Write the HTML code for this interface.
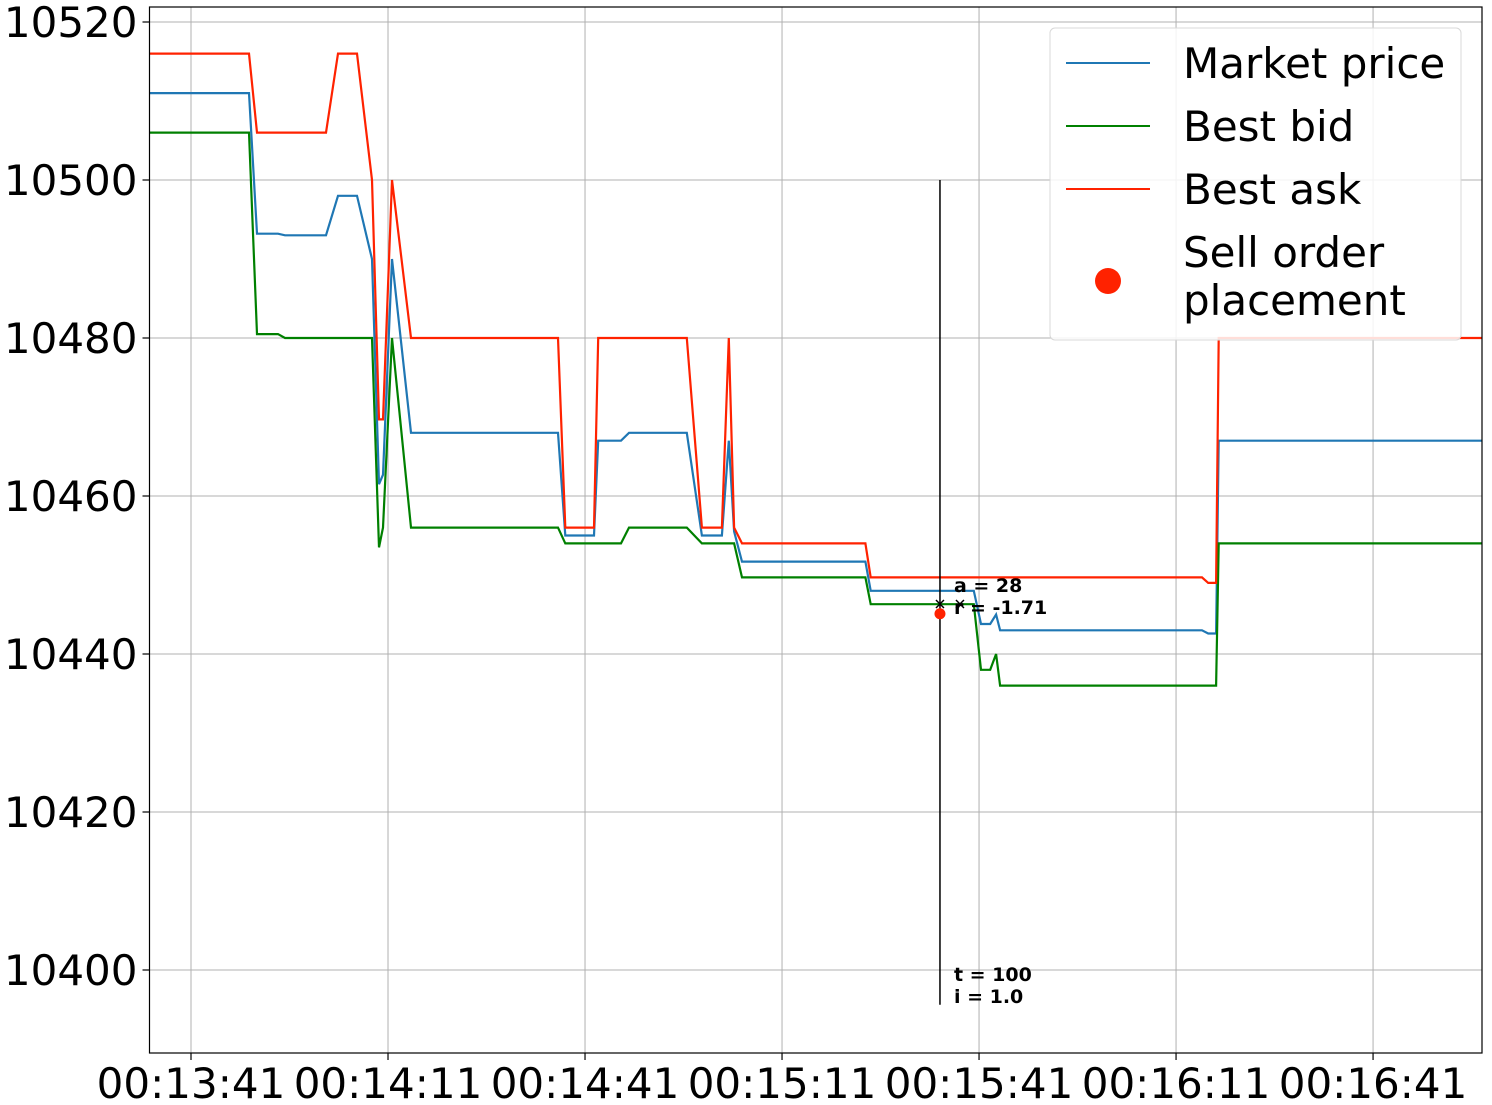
<!DOCTYPE html>
<html><head><meta charset="utf-8">
<style>
html,body{margin:0;padding:0;background:#fff;}
svg{display:block;font-family:"DejaVu Sans","Liberation Sans",sans-serif;}
</style></head>
<body>
<svg id="chart" width="1492" height="1105" viewBox="0 0 1492 1105"></svg>
<script>
// time in seconds relative to 00:13:41
const askTimes = [-6.4,8.83,10.05,20.56,22.38,25.28,27.56,28.63,29.24,30.61,33.5,55.89,57.0,61.37,62.0,75.5,77.8,80.85,81.9,82.7,83.9,102.7,103.5,153.95,154.9,156.1,156.5,196.6];
const askValues = [10516,10516,10506,10506,10516,10516,10500,10469.7,10469.7,10500,10480,10480,10456,10456,10480,10480,10456,10456,10480,10456,10454,10454,10449.7,10449.7,10449,10449,10480,10480];
const mktTimes = [-6.4,8.83,10.05,13.25,14.31,20.56,22.38,25.28,27.56,28.63,29.24,30.61,33.5,55.89,57.0,61.37,62.0,65.48,66.7,75.5,77.8,80.85,81.9,82.7,83.9,102.7,103.5,119.2,120.3,121.7,122.6,123.2,153.95,154.9,156.1,156.5,196.6];
const mktValues = [10511,10511,10493.2,10493.2,10493,10493,10498,10498,10490,10461.5,10462.7,10490,10468,10468,10455,10455,10467,10467,10468,10468,10455,10455,10467,10455.5,10451.7,10451.7,10448,10448,10443.8,10443.8,10445,10443,10443,10442.6,10442.6,10467,10467];
const bidTimes = [-6.4,8.83,10.05,13.25,14.31,27.56,28.63,29.24,30.61,33.5,55.89,57.0,65.48,66.7,75.5,77.8,82.7,83.9,102.7,103.5,119.2,120.3,121.7,122.6,123.2,156.1,156.5,196.6];
const bidValues = [10506,10506,10480.5,10480.5,10480,10480,10453.5,10456,10480,10456,10456,10454,10454,10456,10456,10454,10454,10449.7,10449.7,10446.3,10446.3,10438,10438,10440,10436,10436,10454,10454];
const sellTime = [114.05];
const sellPrice = [10445.1];
const yTicks = [10400,10420,10440,10460,10480,10500,10520];
const xTicks = [0,30,60,90,120,150,180];
const xTickLabels = ["00:13:41","00:14:11","00:14:41","00:15:11","00:15:41","00:16:11","00:16:41"];

const NS="http://www.w3.org/2000/svg";
const svg=document.getElementById('chart');
const L=149.5,R=1482,T=7,B=1053;
const xs=t=>191+t*6.567;
const ys=v=>22+(10520-v)*7.9;
function mk(tag,attrs,parent){const e=document.createElementNS(NS,tag);for(const k in attrs)e.setAttribute(k,attrs[k]);(parent||svg).appendChild(e);return e;}

const clip=mk('clipPath',{id:'pc'});mk('rect',{x:L,y:T,width:R-L,height:B-T},clip);

yTicks.forEach((v,i)=>{
  const g=mk('line',{x1:L,x2:R,y1:ys(v),y2:ys(v),stroke:'#b0b0b0','stroke-width':1});
  
  
  mk('line',{x1:L-7,x2:L,y1:ys(v),y2:ys(v),stroke:'#000','stroke-width':1.2});
  const t=mk('text',{x:L-12,y:ys(v)+15,'text-anchor':'end','font-size':42,fill:'#000'});
  t.textContent=v;
  
  
});
xTicks.forEach((s,i)=>{
  const g=mk('line',{x1:xs(s),x2:xs(s),y1:T,y2:B,stroke:'#b0b0b0','stroke-width':1});
  
  
  mk('line',{x1:xs(s),x2:xs(s),y1:B,y2:B+7,stroke:'#000','stroke-width':1.2});
  const t=mk('text',{x:xs(s),y:B+45,'text-anchor':'middle','font-size':42,fill:'#000'});
  t.textContent=xTickLabels[i];
  
  
});

function line(times,vals,color,name){
  const pts=times.map((t,i)=>xs(t).toFixed(1)+','+ys(vals[i]).toFixed(1)).join(' ');
  const p=mk('polyline',{points:pts,fill:'none',stroke:color,'stroke-width':2.2,'clip-path':'url(#pc)'});
  
  
}
line(mktTimes,mktValues,'#1f77b4','market-price-line');
line(bidTimes,bidValues,'#008000','best-bid-line');
line(askTimes,askValues,'#ff2200','best-ask-line');

const vx=xs(sellTime[0]);
const vl=mk('line',{x1:vx,x2:vx,y1:ys(10500),y2:ys(10395.6),stroke:'#000','stroke-width':1.5});


const dot=mk('circle',{cx:vx,cy:ys(sellPrice[0]),r:5.5,fill:'#ff2200'});


[[vx,604],[vx+20,604]].forEach(([x,y])=>{
  mk('path',{d:`M${x-4},${y-4}L${x+4},${y+4}M${x-4},${y+4}L${x+4},${y-4}`,stroke:'#000','stroke-width':1.5});
});
[['a = 28',592,'annotation-a'],['r = -1.71',614,'annotation-r'],['t = 100',981,'annotation-t'],['i = 1.0',1003,'annotation-i']].forEach(([s,y,n])=>{
  const t=mk('text',{x:vx+14,y:y,'font-size':19,'font-weight':'bold',fill:'#000'});
  t.textContent=s;
  
  
});

mk('rect',{x:L,y:T,width:R-L,height:B-T,fill:'none',stroke:'#000','stroke-width':1.2});

const lg=mk('g',{});


mk('rect',{x:1050,y:28,width:411,height:312,rx:5,fill:'#fff','fill-opacity':0.85,stroke:'#d8d8d8','stroke-width':1},lg);
[['Market price','#1f77b4',63],['Best bid','#008000',126],['Best ask','#ff2200',189]].forEach(([s,c,y])=>{
  mk('line',{x1:1066,x2:1150,y1:y,y2:y,stroke:c,'stroke-width':2},lg);
  const t=mk('text',{x:1183,y:y+15,'font-size':42,fill:'#000'},lg);
  t.textContent=s;
  
  
});
mk('circle',{cx:1108,cy:281,r:13,fill:'#ff2200'},lg);
const t1=mk('text',{x:1183,y:267,'font-size':42,fill:'#000'},lg);t1.textContent='Sell order';


const t2=mk('text',{x:1183,y:315,'font-size':42,fill:'#000'},lg);t2.textContent='placement';


</script>
</body></html>
